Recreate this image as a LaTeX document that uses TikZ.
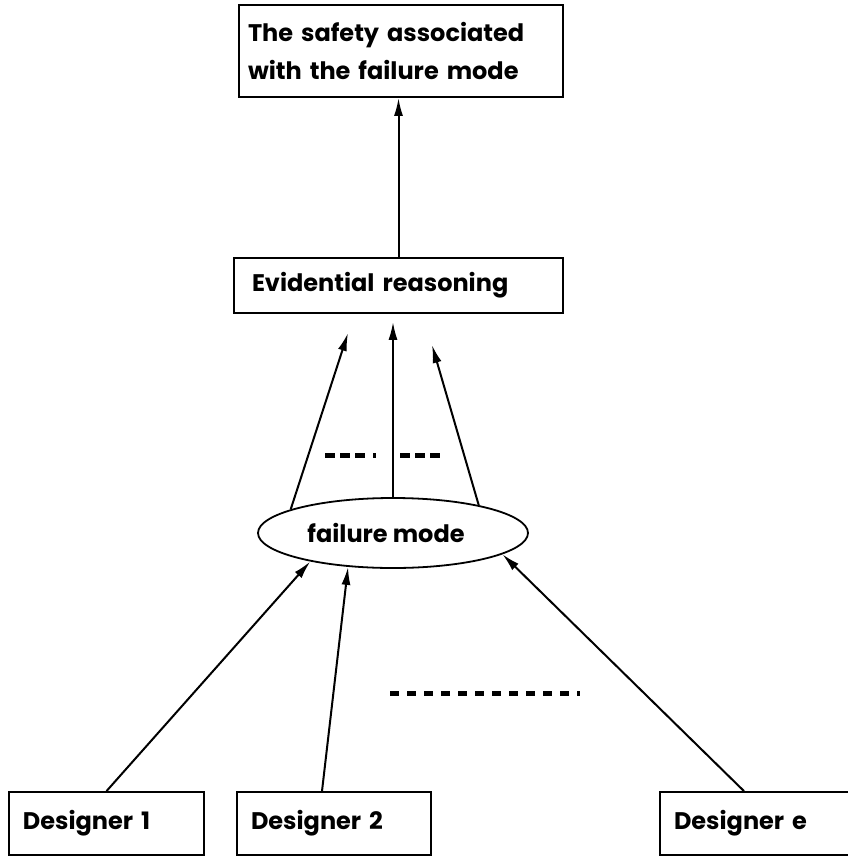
\documentclass[tikz,border=0pt]{standalone}
\usepackage{fontspec}
\setmainfont{Poppins}
\usetikzlibrary{shapes.geometric,arrows.meta}

\begin{document}
\begin{tikzpicture}[x=1pt, y=-1pt]
  % Define box, oval and arrow style
  \tikzstyle{mybox} = [draw, line width=1.8pt, rectangle, inner xsep=12pt,
  inner ysep=0pt, align=left, font=\fontsize{24}{38}\selectfont\bfseries]
  \tikzstyle{myoval} = [draw, line width=1.8pt, ellipse, inner sep=0pt,
  minimum width=270pt, minimum height=70pt,
  font=\fontsize{24}{38}\selectfont\bfseries]
  \tikzstyle{myarrow} = [line width=2pt, -{Latex[length=18pt,width=9pt]}]
  \tikzstyle{mydots} = [line width=5pt]

  \useasboundingbox (0,0) rectangle (848,859);

  \node [mybox, inner xsep=9pt, text width=306pt, minimum height=92pt]
  (safety) at (401,51) {The safety associated\\with the failure mode};
  \node [mybox, inner xsep=18pt, text width=293pt, minimum height=55pt]
  (evid) at (398.5,285.5) {Evidential reasoning};
  \node [myoval] (fm) at (393,533) {failure mode\hspace*{14pt}};

  \node [mybox, inner xsep=14pt, text width=167pt, minimum height=63pt]
  (des1) at (106.5,823.5) {Designer 1};
  \node [mybox, inner xsep=14pt, text width=166pt, minimum height=63pt]
  (des2) at (334,823.5) {Designer 2};
  \node [mybox, inner xsep=14pt, text width=164pt, minimum height=63pt]
  (dese) at (756,823.5) {Designer e};

  \coordinate (tipl) at (348,333);
  \coordinate (tipr) at (432,345);

  \draw [myarrow] (evid.north) -- (evid.north |- safety.south);
  \draw [myarrow] (fm.167) -- (tipl);
  \draw [myarrow, shorten >=8pt] (fm.north) -- (fm.north |- evid.south);
  \draw [myarrow] (fm.18) -- (tipr);

  \draw [myarrow] (des1.north) -- (fm.199);
  \draw [myarrow] ([xshift=-12pt]des2.north) -- (fm.217);
  \draw [myarrow] ([xshift=-12pt]dese.north) -- (fm.349);

  % dotted gaps
  \draw [mydots, dash pattern=on 10pt off 5pt on 10pt off 5pt on 10pt off 8pt on 3pt off 50pt]
  (325,455) -- (380,455);
  \draw [mydots, dash pattern=on 10pt off 5pt] (400,455) -- (443,455);
  \draw [mydots, dash pattern=on 9pt off 8pt] (390,693) -- (580,693);
\end{tikzpicture}
\end{document}
